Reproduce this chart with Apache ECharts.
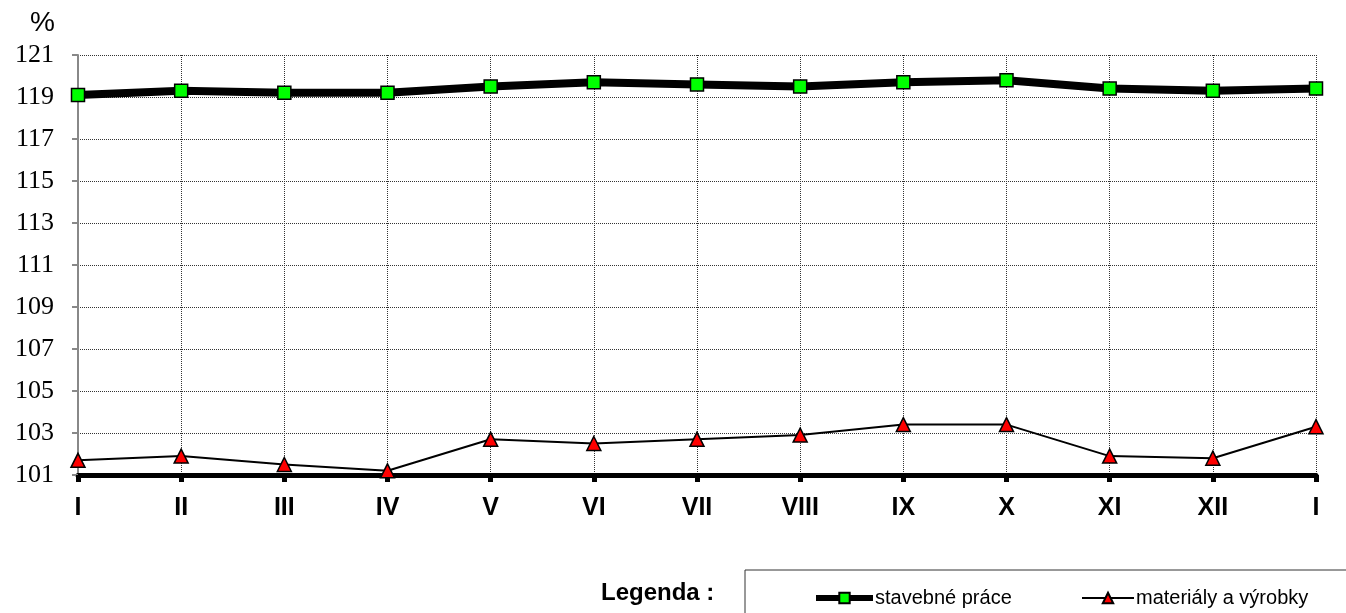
<!DOCTYPE html>
<html>
<head>
<meta charset="utf-8">
<script src="https://cdn.jsdelivr.net/npm/echarts@6/dist/echarts.min.js"></script>
<style>html,body{margin:0;padding:0;background:#fff;}#c{width:1346px;height:613px;}</style>
</head>
<body>
<div id="c"></div>
<script>
const categories = ['I','II','III','IV','V','VI','VII','VIII','IX','X','XI','XII','I'];
const stavebnePrace = [119.1,119.3,119.2,119.2,119.5,119.7,119.6,119.5,119.7,119.8,119.4,119.3,119.4];
const materialyVyrobky = [101.7,101.9,101.5,101.2,102.7,102.5,102.7,102.9,103.4,103.4,101.9,101.8,103.3];
const seriesNames = ['stavebné práce','materiály a výrobky'];
const yMin = 101, yMax = 121, yStep = 2;

const legendText = {fontFamily: 'Liberation Sans, Arial', fontSize: 20, color: '#000', padding: [0,0,0,-3]};
const chart = echarts.init(document.getElementById('c'));
chart.setOption({
  animation: false,
  backgroundColor: '#fff',
  grid: {left: 78, right: 30, top: 55, bottom: 138, containLabel: false},
  xAxis: {
    type: 'category',
    data: categories,
    boundaryGap: false,
    axisLine: {show: true, lineStyle: {color: '#000', width: 5}},
    axisTick: {show: true, alignWithLabel: true, length: 7, lineStyle: {color: '#000', width: 5}},
    axisLabel: {color: '#000', fontFamily: 'Liberation Sans, Arial', fontWeight: 'bold', fontSize: 25, margin: 21, interval: 0},
    splitLine: {show: true, lineStyle: {color: '#333', type: [1, 1], width: 1}}
  },
  yAxis: {
    type: 'value',
    min: yMin, max: yMax, interval: yStep,
    axisLine: {show: true, lineStyle: {color: '#888', width: 2}},
    axisTick: {show: true, length: 6, lineStyle: {color: '#888', width: 2}},
    axisLabel: {color: '#000', fontFamily: 'Liberation Serif, Times New Roman', fontSize: 26, margin: 24},
    splitLine: {show: true, lineStyle: {color: '#333', type: [1, 1], width: 1}}
  },
  legend: [
    {
      left: 808, top: 583, itemWidth: 57, itemHeight: 13,
      lineStyle: {width: 6},
      textStyle: legendText,
      data: [seriesNames[0]]
    },
    {
      left: 1076, top: 583, itemWidth: 52, itemHeight: 13,
      lineStyle: {width: 2},
      textStyle: legendText,
      data: [seriesNames[1]]
    }
  ],
  graphic: [
    {type: 'rect', shape: {x: 745, y: 570, width: 620, height: 60}, style: {fill: 'none', stroke: '#333', lineWidth: 1}, silent: true},
    {type: 'text', left: 601, top: 581, style: {text: 'Legenda :', font: 'bold 24px "Liberation Sans", Arial', fill: '#000'}},
    {type: 'text', left: 30, top: 9, style: {text: '%', font: '28px "Liberation Sans", Arial', fill: '#000'}}
  ],
  series: [
    {
      name: seriesNames[0], type: 'line', data: stavebnePrace,
      symbol: 'rect', symbolSize: 13,
      lineStyle: {color: '#000', width: 8},
      itemStyle: {color: '#00ff00', borderColor: '#000', borderWidth: 1.5},
      z: 3
    },
    {
      name: seriesNames[1], type: 'line', data: materialyVyrobky,
      symbol: 'triangle', symbolSize: 14,
      lineStyle: {color: '#000', width: 2},
      itemStyle: {color: '#ff0000', borderColor: '#000', borderWidth: 1.5},
      z: 3
    }
  ]
});
</script>
</body>
</html>
